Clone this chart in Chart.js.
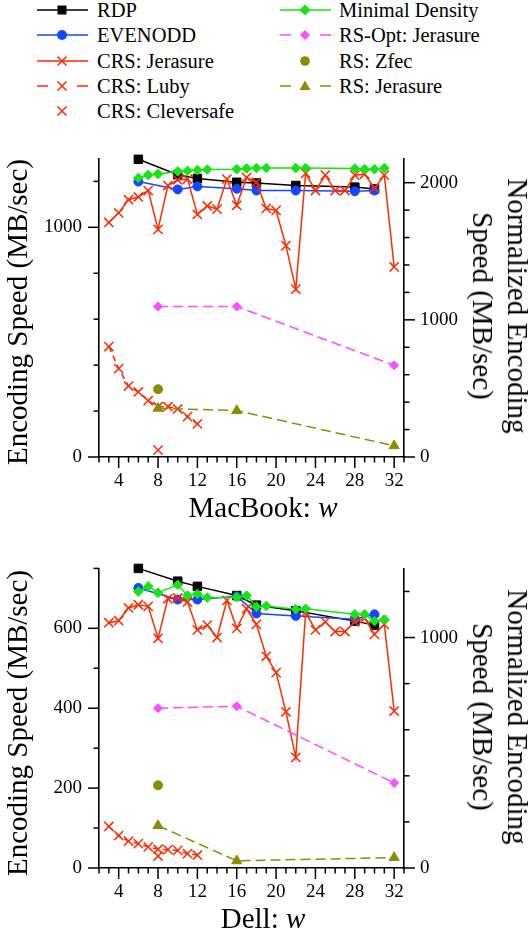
<!DOCTYPE html>
<html>
<head>
<meta charset="utf-8">
<script src="https://cdn.jsdelivr.net/npm/chart.js@4.4.1/dist/chart.umd.min.js"></script>
<style>
  html, body { margin: 0; padding: 0; background: #fff; }
  #page { position: relative; width: 532px; height: 938px; overflow: hidden;
          font-family: "Liberation Serif", "Times New Roman", serif; color: #000; }
  canvas { position: absolute; left: 0; }
  .sw { position: absolute; width: 54px; height: 20px; }
  .lt { position: absolute; font-size: 20.5px; line-height: 1; white-space: nowrap; }
  .ttl { position: absolute; font-size: 29px; line-height: 1; white-space: nowrap; z-index: 2; }
  .ylt { transform: translate(-50%, -50%) rotate(-90deg); }
  .yrt { transform: translate(-50%, -50%) rotate(90deg); line-height: 35px; text-align: center; }
  .xt { transform: translateX(-50%); }
</style>
</head>
<body>
<div id="page">
  <!-- legend, column 1 -->
  <svg class="sw" style="left:36px;top:0px"><line x1="1" y1="10" x2="52" y2="10" stroke="#000" stroke-width="1.5"/><rect x="21.5" y="5.5" width="9" height="9" fill="#000"/></svg>
  <div class="lt" style="left:97px;top:-0.4px">RDP</div>
  <svg class="sw" style="left:36px;top:25px"><line x1="1" y1="10" x2="52" y2="10" stroke="#1446ff" stroke-width="1.5"/><circle cx="26" cy="10" r="5" fill="#1446ff"/></svg>
  <div class="lt" style="left:97px;top:24.6px">EVENODD</div>
  <svg class="sw" style="left:36px;top:51px"><line x1="1" y1="10" x2="52" y2="10" stroke="#ff2a00" stroke-width="1.5"/><path d="M21.5 5.5 L30.5 14.5 M30.5 5.5 L21.5 14.5" stroke="#ff2a00" stroke-width="1.5"/></svg>
  <div class="lt" style="left:97px;top:50.6px">CRS: Jerasure</div>
  <svg class="sw" style="left:36px;top:76px"><line x1="1" y1="10" x2="52" y2="10" stroke="#ff2a00" stroke-width="1.5" stroke-dasharray="11 29"/><path d="M21.5 5.5 L30.5 14.5 M30.5 5.5 L21.5 14.5" stroke="#ff2a00" stroke-width="1.5"/></svg>
  <div class="lt" style="left:97px;top:75.6px">CRS: Luby</div>
  <svg class="sw" style="left:36px;top:101px"><path d="M21.5 5.5 L30.5 14.5 M30.5 5.5 L21.5 14.5" stroke="#ff2a00" stroke-width="1.5"/></svg>
  <div class="lt" style="left:97px;top:100.6px">CRS: Cleversafe</div>
  <!-- legend, column 2 -->
  <svg class="sw" style="left:279px;top:0px"><line x1="1" y1="10" x2="52" y2="10" stroke="#14e614" stroke-width="1.5"/><polygon points="26,4.5 31.5,10 26,15.5 20.5,10" fill="#14e614"/></svg>
  <div class="lt" style="left:339px;top:-0.4px">Minimal Density</div>
  <svg class="sw" style="left:279px;top:25px"><line x1="1" y1="10" x2="52" y2="10" stroke="#ff4dff" stroke-width="1.5" stroke-dasharray="11 29"/><polygon points="26,5 31,10 26,15 21,10" fill="#ff4dff"/></svg>
  <div class="lt" style="left:339px;top:24.6px">RS-Opt: Jerasure</div>
  <svg class="sw" style="left:279px;top:51px"><circle cx="26" cy="10" r="4.8" fill="#8c8c00"/></svg>
  <div class="lt" style="left:339px;top:50.6px">RS: Zfec</div>
  <svg class="sw" style="left:279px;top:76px"><line x1="1" y1="10" x2="52" y2="10" stroke="#8c8c00" stroke-width="1.5" stroke-dasharray="11 29"/><polygon points="26,4.5 31.5,14 20.5,14" fill="#8c8c00"/></svg>
  <div class="lt" style="left:339px;top:75.6px">RS: Jerasure</div>

  <canvas id="macChart" width="532" height="400" style="top:130px;width:532px;height:400px"></canvas>
  <canvas id="dellChart" width="532" height="398" style="top:540px;width:532px;height:398px"></canvas>

  <div class="ttl ylt" style="left:17.2px;top:312px">Encoding Speed (MB/sec)</div>
  <div class="ttl yrt" style="left:500.3px;top:306px">Normalized Encoding<br>Speed (MB/sec)</div>
  <div class="ttl xt" style="left:263px;top:492.7px">MacBook: <i>w</i></div>

  <div class="ttl ylt" style="left:17.2px;top:723px">Encoding Speed (MB/sec)</div>
  <div class="ttl yrt" style="left:500.3px;top:717px">Normalized Encoding<br>Speed (MB/sec)</div>
  <div class="ttl xt" style="left:263px;top:903.7px">Dell: <i>w</i></div>
</div>

<script>
// x values (w) for each family of codes
const rdpW = [6, 10, 12, 16, 18, 22, 28, 30];
const mdW = [6, 7, 8, 10, 11, 12, 13, 16, 17, 18, 19, 22, 23, 28, 29, 30, 31];
const crsW = [3, 4, 5, 6, 7, 8, 9, 10, 11, 12, 13, 14, 15, 16, 17, 18, 19, 20, 21, 22, 23, 24, 25, 26, 27, 28, 29, 30, 31, 32];
const lubyW = [3, 4, 5, 6, 7, 8, 9, 10, 11, 12];
const singleW = [8];
const rsW = [8, 16, 32];

// MacBook (MB/sec)
const macRdp = [1296, 1229, 1213, 1196, 1193, 1182, 1175, 1167];
const macEvenodd = [1199, 1165, 1178, 1168, 1160, 1160, 1157, 1160];
const macMinDensity = [1215, 1228, 1232, 1243, 1246, 1249, 1252, 1253, 1256, 1258, 1258, 1258, 1258, 1256, 1253, 1253, 1258];
const macCrsJerasure = [1021, 1063, 1120, 1132, 1160, 991, 1182, 1206, 1210, 1056, 1093, 1079, 1210, 1096, 1217, 1196, 1082, 1074, 920, 731, 1235, 1160, 1227, 1160, 1160, 1227, 1232, 1170, 1227, 828];
const macCrsLuby = [481, 385, 309, 283, 245, 219, 219, 209, 176, 144];
const macCleversafe = [30];
const macZfec = [295];
const macRsJerasure = [212, 202, 49];
const macRsOpt = [655, 655, 399];

// Dell (MB/sec)
const dellRdp = [750, 718, 705, 682, 658, 644, 618, 608];
const dellEvenodd = [701, 672, 672, 680, 637, 631, 623, 635];
const dellMinDensity = [692, 705, 689, 709, 682, 686, 677, 678, 682, 654, 656, 648, 649, 635, 635, 618, 622];
const dellCrsJerasure = [614, 619, 651, 659, 655, 575, 674, 676, 666, 596, 608, 577, 670, 600, 649, 610, 530, 489, 391, 277, 640, 596, 616, 592, 592, 616, 625, 585, 610, 393];
const dellCrsLuby = [104, 81, 67, 61, 53, 47, 46, 44, 36, 32];
const dellCleversafe = [30];
const dellZfec = [207];
const dellRsJerasure = [106, 18, 26];
const dellRsOpt = [400, 405, 213];

// axis ranges
const xRange = [2, 33];
const macYMax = 1300, macNormMax = 2177;
const dellYMax = 750, dellNormMax = 1300;

const FONT = '"Liberation Serif", "Times New Roman", serif';
const BLACK = '#000000', BLUE = '#1446ff', RED = '#ff2a00', GREEN = '#14e614', MAGENTA = '#ff4dff', OLIVE = '#8c8c00';

function pts(xs, ys) {
  return xs.map((x, i) => ({ x, y: ys[i] }));
}

function series(label, xs, ys, color, shape, radius, order, extra) {
  return Object.assign({
    label,
    data: pts(xs, ys),
    borderColor: color,
    backgroundColor: color,
    pointStyle: shape,
    pointRadius: radius,
    pointHoverRadius: radius,
    pointBorderWidth: 1,
    borderWidth: 1.5,
    tension: 0,
    clip: false,
    order
  }, extra || {});
}

// major / minor tick marks, placed through each scale
const tickMarks = {
  id: 'tickMarks',
  afterDraw(chart) {
    const ctx = chart.ctx;
    const area = chart.chartArea;
    ctx.save();
    ctx.strokeStyle = '#000';
    ctx.lineWidth = 1.5;
    Object.values(chart.scales).forEach(scale => {
      scale.ticks.forEach(t => {
        const p = scale.getPixelForValue(t.value);
        const len = t.label !== '' ? 11 : 5.5;
        ctx.beginPath();
        if (scale.axis === 'x') {
          ctx.moveTo(p, area.bottom);
          ctx.lineTo(p, area.bottom + len);
        } else if (scale.position === 'left') {
          ctx.moveTo(area.left, p);
          ctx.lineTo(area.left - len, p);
        } else {
          ctx.moveTo(area.right, p);
          ctx.lineTo(area.right + len, p);
        }
        ctx.stroke();
      });
    });
    ctx.restore();
  }
};

function buildChart(id, d, yMax, normMax, yLabelStep, padTop, xAxisH) {
  const tickFont = { family: FONT, size: 19, lineHeight: 1.2 };
  const border = { display: true, color: '#000', width: 1.6 };
  const noGrid = { display: false, drawTicks: false };
  return new Chart(document.getElementById(id), {
    type: 'line',
    data: {
      datasets: [
        series('RDP', rdpW, d.rdp, BLACK, 'rect', 6, 9),
        series('EVENODD', rdpW, d.evenodd, BLUE, 'circle', 4.5, 8),
        series('CRS: Jerasure', crsW, d.crsJ, RED, 'crossRot', 6.5, 6, { pointBorderWidth: 1.5 }),
        series('CRS: Luby', lubyW, d.luby, RED, 'crossRot', 6.5, 7, { pointBorderWidth: 1.5, borderDash: [6, 4] }),
        series('CRS: Cleversafe', singleW, d.clever, RED, 'crossRot', 6.5, 4, { pointBorderWidth: 1.5, showLine: false }),
        series('Minimal Density', mdW, d.md, GREEN, 'rectRot', 4.8, 5),
        series('RS-Opt: Jerasure', rsW, d.rsOpt, MAGENTA, 'rectRot', 4.5, 3, { borderDash: [10, 5] }),
        series('RS: Zfec', singleW, d.zfec, OLIVE, 'circle', 4.5, 2, { showLine: false }),
        series('RS: Jerasure', rsW, d.rsJ, OLIVE, 'triangle', 5.8, 1, { borderDash: [10, 5] })
      ]
    },
    options: {
      responsive: false,
      maintainAspectRatio: false,
      animation: false,
      events: [],
      layout: { padding: { top: padTop, left: 0, right: 0, bottom: 0 } },
      plugins: { legend: { display: false }, tooltip: { enabled: false } },
      scales: {
        x: {
          type: 'linear',
          min: xRange[0],
          max: xRange[1],
          grid: noGrid,
          border,
          ticks: {
            stepSize: 1,
            autoSkip: false,
            maxRotation: 0,
            padding: 13,
            color: '#000',
            font: tickFont,
            callback: v => (v % 4 === 0 ? String(v) : '')
          },
          afterFit: s => { s.height = xAxisH; }
        },
        y: {
          position: 'left',
          min: 0,
          max: yMax,
          grid: noGrid,
          border,
          ticks: {
            stepSize: 100,
            padding: 17,
            color: '#000',
            font: tickFont,
            callback: v => (v % yLabelStep === 0 ? String(v) : '')
          },
          afterFit: s => { s.width = 99; }
        },
        y2: {
          position: 'right',
          min: 0,
          max: normMax,
          grid: noGrid,
          border,
          ticks: {
            stepSize: 100,
            padding: 16,
            color: '#000',
            font: tickFont,
            callback: v => (v % 500 === 0 ? String(v) : '')
          },
          afterFit: s => { s.width = 128; }
        }
      }
    },
    plugins: [tickMarks]
  });
}

buildChart('macChart', {
  rdp: macRdp, evenodd: macEvenodd, crsJ: macCrsJerasure, luby: macCrsLuby,
  clever: macCleversafe, md: macMinDensity, rsOpt: macRsOpt, zfec: macZfec, rsJ: macRsJerasure
}, macYMax, macNormMax, 500, 23, 73);

buildChart('dellChart', {
  rdp: dellRdp, evenodd: dellEvenodd, crsJ: dellCrsJerasure, luby: dellCrsLuby,
  clever: dellCleversafe, md: dellMinDensity, rsOpt: dellRsOpt, zfec: dellZfec, rsJ: dellRsJerasure
}, dellYMax, dellNormMax, 200, 24, 70);
</script>
</body>
</html>
